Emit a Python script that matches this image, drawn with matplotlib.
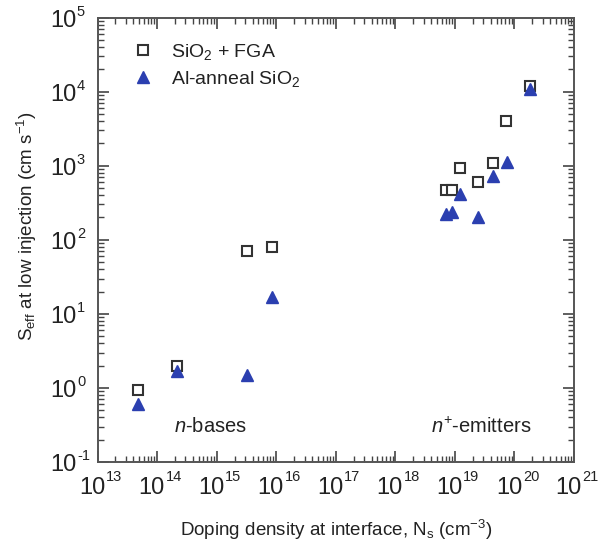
import matplotlib
matplotlib.use("Agg")
import matplotlib.pyplot as plt
from matplotlib.ticker import LogLocator, NullFormatter

plt.rcParams['font.family'] = ['Liberation Sans', 'DejaVu Sans']
plt.rcParams['mathtext.fontset'] = 'custom'
plt.rcParams['mathtext.rm'] = 'Liberation Sans'
plt.rcParams['mathtext.it'] = 'Liberation Sans:italic'
plt.rcParams['mathtext.default'] = 'regular'
plt.rcParams['axes.unicode_minus'] = False

# SiO2 + FGA (open squares)
fga_ns = [4.8e13, 2.2e14, 3.2e15, 8.6e15, 7.2e18, 9.1e18, 1.2e19, 2.45e19, 4.3e19, 7.3e19, 1.8e20]
fga_s = [0.95, 2.0, 70, 80, 470, 470, 920, 600, 1100, 4000, 1.2e4]

# Al-anneal SiO2 (filled triangles)
al_ns = [4.8e13, 2.2e14, 3.2e15, 8.6e15, 7.0e18, 8.9e18, 1.2e19, 2.4e19, 4.3e19, 7.5e19, 1.8e20]
al_s = [0.6, 1.7, 1.5, 17, 225, 235, 410, 205, 720, 1130, 1.1e4]

x_exponents = list(range(13, 22))
y_exponents = list(range(-1, 6))

TXT = '#222222'

fig = plt.figure(figsize=(6.03, 5.49), dpi=100)
ax = fig.add_axes([0.1617, 0.1585, 0.7903, 0.8095])

ax.plot(fga_ns, fga_s, linestyle='none', marker='s', markersize=7,
        markerfacecolor='white', markeredgecolor='#333333', markeredgewidth=1.5,
        label='SiO$_2$ + FGA', zorder=3)
ax.plot(al_ns, al_s, linestyle='none', marker='^', markersize=9,
        markerfacecolor='#2b3fb0', markeredgecolor='#2b3fb0',
        label='Al-anneal SiO$_2$', zorder=4)

ax.set_xscale('log')
ax.set_yscale('log')
ax.set_xlim(10.0 ** x_exponents[0], 10.0 ** x_exponents[-1])
ax.set_ylim(10.0 ** y_exponents[0], 10.0 ** y_exponents[-1])

ax.xaxis.set_major_locator(LogLocator(base=10, numticks=20))
ax.yaxis.set_major_locator(LogLocator(base=10, numticks=20))
ax.xaxis.set_minor_locator(LogLocator(base=10, subs=range(2, 10), numticks=100))
ax.yaxis.set_minor_locator(LogLocator(base=10, subs=range(2, 10), numticks=100))
for a in (ax.xaxis, ax.yaxis):
    a.set_major_formatter(NullFormatter())
    a.set_minor_formatter(NullFormatter())

ax.tick_params(which='both', direction='in', top=True, right=True, colors='#444444')
ax.tick_params(which='major', length=8, width=1.2)
ax.tick_params(which='minor', length=4, width=1.0)
for s in ax.spines.values():
    s.set_color('#555555')
    s.set_linewidth(1.4)

# tick labels: "10" with a small superscript exponent
BASE_FS = 17
SUP_FS = 10.5
xt = ax.get_xaxis_transform()
for e in x_exponents:
    ax.annotate('10', xy=(10.0 ** e, 0), xycoords=xt, xytext=(5.5, -18.7),
                textcoords='offset points', ha='right', va='center',
                fontsize=BASE_FS, color=TXT, annotation_clip=False)
    ax.annotate(str(e), xy=(10.0 ** e, 0), xycoords=xt, xytext=(6.0, -11.0),
                textcoords='offset points', ha='left', va='center',
                fontsize=SUP_FS, color=TXT, annotation_clip=False)
yt = ax.get_yaxis_transform()
for e in y_exponents:
    ax.annotate('10', xy=(0, 10.0 ** e), xycoords=yt, xytext=(-15.2, -2.2),
                textcoords='offset points', ha='right', va='center',
                fontsize=BASE_FS, color=TXT, annotation_clip=False)
    ax.annotate(str(e), xy=(0, 10.0 ** e), xycoords=yt, xytext=(-14.8, 4.3),
                textcoords='offset points', ha='left', va='center',
                fontsize=SUP_FS, color=TXT, annotation_clip=False)

ax.set_xlabel('Doping density at interface, N$_s$ (cm$^{-3}$)', fontsize=13.5, color=TXT)
ax.xaxis.set_label_coords(0.5, -0.126)
ax.set_ylabel('S$_{eff}$ at low injection (cm s$^{-1}$)', fontsize=13.5, color=TXT)
ax.yaxis.set_label_coords(-0.122, 0.531)

ax.text(0.238, 0.079, '$\\mathit{n}$-bases', transform=ax.transAxes, fontsize=14.5,
        ha='center', va='center', color=TXT)
ax.text(0.805, 0.079, '$\\mathit{n}^{+}$-emitters', transform=ax.transAxes, fontsize=14.5,
        ha='center', va='center', color=TXT)

leg = ax.legend(loc='upper left', bbox_to_anchor=(0.055, 0.962), frameon=False,
                fontsize=14, handletextpad=0.85, labelspacing=0.35, borderaxespad=0,
                handlelength=1.2)
for t in leg.get_texts():
    t.set_color(TXT)

fig.savefig('out.png', dpi=100)
